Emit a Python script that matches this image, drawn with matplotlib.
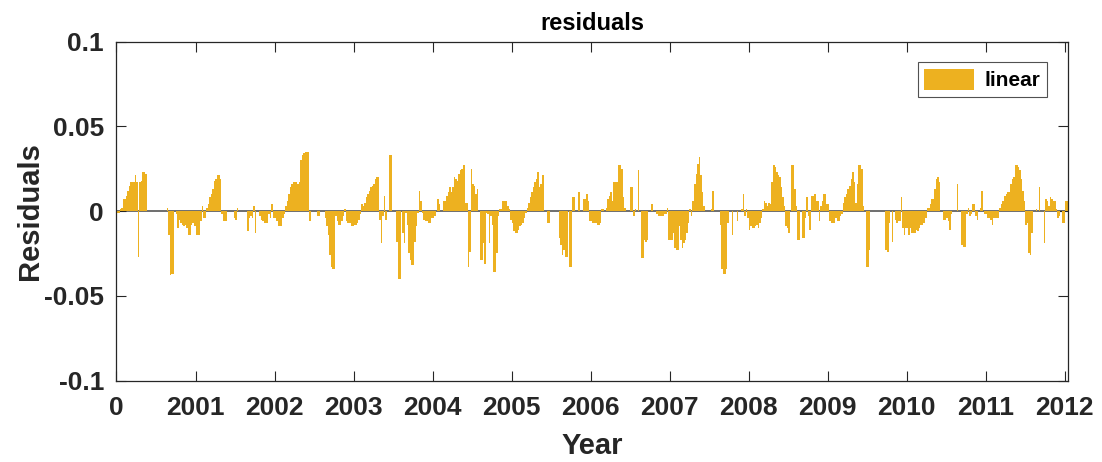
import numpy as np
import matplotlib.pyplot as plt

plt.rcParams['font.family'] = ['Liberation Sans', 'DejaVu Sans']
plt.rcParams['font.weight'] = 'bold'

# weekly residuals, in thousandths, one list per year (52 weeks)
y2000 = [-1, -1, 1, 2, 7, 7, 9, 12, 15, 17, 17, 17, 21, 17, -27, 17, 18, 23, 23, 22,
         0, 0, 0, 0, 0, 0, 0, 0, 0, 0, 0, 0, 0,
         2, -14, -38, -37, -37, 0, -2, -10, -5, -7, -8, -9, -8, -10, -14, -14, -8, -7, -9]
y2001 = [-14, -14, -14, -6, 3, -4, -4, 2, 4, 8, 10, 13, 18, 19, 21, 21, 19, -2, -6, -6, -6,
         0, 0, 0, 0, -4, -5, 2, 0, 0, 0, 0, 0, 0, -12, -4, -3, -4, 3, -13, 0, 0,
         -3, -5, -6, -7, -7, -7, -2, -4, 4, -4]
y2002 = [-4, -6, -9, -9, -9, -4, -2, 3, 6, 10, 14, 16, 17, 17, 17, 16, 17, 30, 33, 34, 35, 35, 35, -6,
         0, 0, 0, 0, -3, -3, 0, 0, 0,
         -4, -9, -14, -26, -33, -34, -34, -3, -6, -8, -8, -6, -3, 1, -6, -7, -7, -9, -9]
y2003 = [-8, -8, -7, -5, -2, 4, 3, 5, 8, 10, 12, 14, 15, 16, 19, 20, 20,
         -5, -19, -3, 9, -5, 0, 33, 33, 0, 0, 0, -18, -40, -40, 0,
         -13, -19, -1, -8, -25, -29, -32, -32, -18, -9, -1, 12, 6, -1, -5, -6, -6, -7, -7, -4]
y2004 = [-4, -3, 0, 7, 4, 0, 0, 6, 6, 9, 11, 14, 11, 14, 20, 19, 18, 22, 24, 25,
         27, 5, 5, -33, -24, 25, 16, 15, 10, 13, 0, -29, -29, -19, -31, -1, -2, -19, -3, -8,
         -36, -36, -25, -3, 1, 1, 6, 6, 6, 3, 1, -5]
y2005 = [-7, -12, -13, -13, -11, -9, -8, -7, -4, -1, 2, 5, 8, 11, 14, 17, 19, 23, 14, 16,
         21, 0, 0, -7, -7, 0, 0, 0, 0, 0, 0, -16, -20, -26, -23, -27, -27,
         0, -33, -33, 8, 8, 0, 0, 11, 0, 0, 7, 7, 10, 6, -6]
y2006 = [-6, -7, -7, -7, -8, -8, -7, 1, 1, 0, 2, 7, 9, 11, 6, 17, 17, 17, 27, 27,
         25, 8, 2, 0, 0, 0, 14, 14, -3, 1, 0, 24, 0, -28, -28, -17, -18, -17, 0, 0,
         4, 0, 0, -2, -3, -3, -3, -3, -2, -2, 2, -17]
y2007 = [-17, -17, -13, -22, -23, -23, -9, -17, -22, -19, -17, -13, -7, 1, -3, 6, 16, 22, 28, 32,
         21, 11, 3, 0, 0, 0, 0, 1, 12, 0, 0, 0, 0, -8, -34, -37, -37, -34, -7, 0,
         0, -14, 0, 0, -6, 0, 0, 1, 10, -3, 1, -4]
y2008 = [-11, -9, -10, -10, -9, -8, -10, -7, -4, 1, 6, 5, 3, 5, 4, 17, 27, 26, 23, 21,
         20, 14, 8, 3, -9, -10, -13, 0, 27, 27, 13, 3, -17, -17, 0, -16, -16, -4, 8, -3,
         -11, 9, 9, 10, 6, 6, -6, 3, 6, 10, 10, 4]
y2009 = [4, -6, -7, -7, -7, -4, -6, -6, -3, -2, 5, 8, 10, 13, 15, 19, 23, 17, 5, 16,
         27, 27, 25, 3, 0, -33, -33, -23, 0, 0, 0, 0, 0, 0, 0, 0, 0, 0,
         -23, -24, -7, 0, -18, 0, -5, -7, -6, -6, 8, -10, -14, -10]
y2010 = [-10, -14, -10, -13, -13, -13, -11, -12, -10, -8, -8, -7, -4, 2, 2, 4, 7, 7, 13, 19,
         20, 17, 0, 0, -5, -5, -4, -6, -11, -2, 0, 0, 0, 16, 0, 0, -20, -21, -21, -2,
         2, -3, -2, 4, 4, -3, -5, 0, 2, 12, 0, -2]
y2011 = [-2, -4, -4, -5, -8, -4, -4, -4, -4, 2, 4, 6, 9, 10, 11, 11, 16, 19, 20, 27,
         27, 26, 24, 19, 12, 6, -8, -7, -25, -26, -13, 0, 0, 1, 0, 14, 0, 0, -19, 7,
         6, 3, 8, 7, 6, 6, 1, -4, -3, 0, -7, -7]
y2012 = [6, 6]

years = list(range(2000, 2013))
year_labels = ['0'] + [str(y) for y in years[1:]]

resid = np.array(y2000 + y2001 + y2002 + y2003 + y2004 + y2005 + y2006 + y2007
                 + y2008 + y2009 + y2010 + y2011 + y2012) / 1000.0
weeks = np.arange(len(resid))
t = 2000 + (weeks + 0.5) / 52

fig = plt.figure(figsize=(11.02, 4.62), dpi=100)
ax = fig.add_axes([0.1057, 0.1764, 0.8633, 0.7336])

ax.axhline(0, color='#555555', lw=1.2, zorder=1)
ax.bar(t, resid, width=1 / 52, color='#EDB120', edgecolor='none', label='linear', zorder=2)

ax.set_xlim(2000, 2000 + len(resid) / 52)
ax.set_ylim(-0.1, 0.1)
ax.set_xticks(years)
ax.set_xticklabels(year_labels)
ax.set_yticks([-0.1, -0.05, 0, 0.05, 0.1])
ax.set_yticklabels(['-0.1', '-0.05', '0', '0.05', '0.1'])
ax.tick_params(direction='in', length=7, width=0.8, labelsize=19, colors='#262626',
               top=True, right=True)
ax.tick_params(axis='x', pad=11)
ax.tick_params(axis='y', pad=9)
for s in ax.spines.values():
    s.set_color('#262626')
    s.set_linewidth(0.9)

ax.set_title('residuals', fontsize=17, fontweight='bold', pad=8)
ax.set_xlabel('Year', fontsize=21, fontweight='bold', color='#262626', labelpad=9)
ax.set_ylabel('Residuals', fontsize=21, fontweight='bold', color='#262626', labelpad=0)

leg = ax.legend(loc='upper right', fontsize=15, frameon=True, fancybox=False,
                handlelength=2.4, handleheight=1.2, borderaxespad=1.0,
                borderpad=0.3, handletextpad=0.5)
leg.get_frame().set_edgecolor('#262626')
leg.get_frame().set_linewidth(0.8)

fig.savefig('out.png', dpi=100)
